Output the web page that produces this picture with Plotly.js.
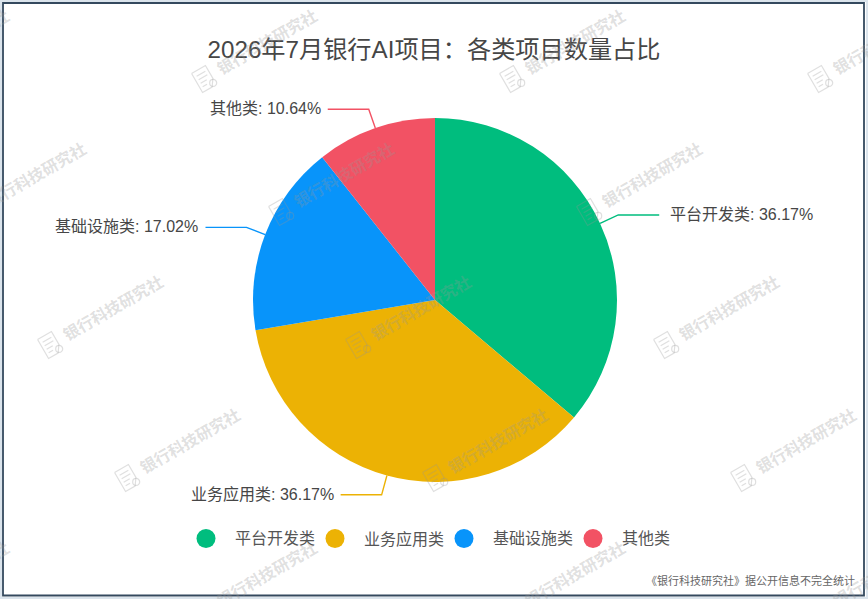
<!DOCTYPE html>
<html>
<head>
<meta charset="utf-8">
<script src="https://cdn.plot.ly/plotly-3.0.1.min.js"></script>
<style>html,body{margin:0;padding:0;background:#fff}#chart{width:868px;height:599px}</style>
</head>
<body>
<div id="chart"></div>
<script>
const categories = ['平台开发类', '业务应用类', '基础设施类', '其他类'];
const projectCounts = [17, 17, 8, 5];
const sliceColors = ['#00bd7e', '#ecb204', '#0894fa', '#f25264'];
const titleText = '2026年7月银行AI项目：各类项目数量占比';
const footerText = '《银行科技研究社》据公开信息不完全统计';
const watermarkText = '银行科技研究社';

const W = 868, H = 599, CX = 435, CY = 300, R = 182;
const FONT = '"Liberation Sans", "Noto Sans CJK SC", sans-serif';
const px = x => x / W;
const py = y => 1 - y / H;

const shapes = [], annotations = [];
const toPath = pts => pts.map((p, i) => (i ? 'L' : 'M') + px(p[0]) + ',' + py(p[1])).join(' ');

// watermarks
function addWatermark(ix, iy) {
  const a = -30 * Math.PI / 180;
  const rot = (dx, dy) => [ix + dx * Math.cos(a) - dy * Math.sin(a), iy + dx * Math.sin(a) + dy * Math.cos(a)];
  const stroke = {color: 'rgba(150,150,150,0.30)', width: 1.2};
  const seg = pts => shapes.push({type: 'path', xref: 'paper', yref: 'paper', layer: 'above',
    path: toPath(pts.map(p => rot(p[0], p[1]))), line: stroke});
  seg([[-8, -11], [8, -11], [8, 4], [3, 11], [-8, 11], [-8, -11]]);
  seg([[-5, -6], [5, -6]]);
  seg([[-5, -2], [5, -2]]);
  seg([[-5, 2], [2, 2]]);
  seg([[-5, 6], [0, 6]]);
  const c = rot(6, 8);
  shapes.push({type: 'circle', xref: 'paper', yref: 'paper', layer: 'above',
    x0: px(c[0] - 3.5), x1: px(c[0] + 3.5), y0: py(c[1] - 3.5), y1: py(c[1] + 3.5), line: stroke});
  annotations.push({xref: 'paper', yref: 'paper', x: px(ix + 63), y: py(iy - 37), xanchor: 'center', yanchor: 'middle',
    text: '<b>' + watermarkText + '</b>', textangle: -30, showarrow: false,
    font: {family: FONT, size: 16, color: 'rgba(150,150,150,0.30)'}});
}
for (let j = -2; j <= 2; j++) {
  for (let i = -1; i <= 3; i++) {
    const ix = 50 + i * 308 + j * 77, iy = 345 + j * 133;
    if (ix > -130 && ix < 860) addWatermark(ix, iy);
  }
}

// leader lines and labels, derived from the values
const total = projectCounts.reduce((a, b) => a + b, 0);
let cum = 0;
projectCounts.forEach((v, i) => {
  const mid = (cum + v / 2) / total * 2 * Math.PI;
  cum += v;
  const s = Math.sin(mid), c = Math.cos(mid);
  const right = s > 0, dir = right ? 1 : -1;
  const ex = CX + R * s, ey = CY - R * c;
  const kx = CX + (R + 20) * s, ky = CY - (R + 20) * c;
  const hx = kx + dir * 41;
  shapes.push({type: 'path', xref: 'paper', yref: 'paper', layer: 'above',
    path: toPath([[ex, ey], [kx, ky], [hx, ky]]), line: {color: sliceColors[i], width: 1.4}});
  annotations.push({xref: 'paper', yref: 'paper', x: px(hx + dir * (right ? 10.5 : 7)), y: py(ky - 0.5),
    xanchor: right ? 'left' : 'right', yanchor: 'middle', showarrow: false, borderpad: 0, borderwidth: 0,
    text: categories[i] + ': ' + (v / total * 100).toFixed(2) + '%',
    font: {family: FONT, size: 16, color: '#464646'}});
});

// legend
categories.forEach((name, i) => {
  const lx = 206 + i * 129, ly = 538.5, r = 9.5;
  shapes.push({type: 'circle', xref: 'paper', yref: 'paper', layer: 'above',
    x0: px(lx - r), x1: px(lx + r), y0: py(ly - r), y1: py(ly + r),
    fillcolor: sliceColors[i], line: {width: 0}});
  annotations.push({xref: 'paper', yref: 'paper', x: px(lx + 27.5), y: py(ly), xanchor: 'left', yanchor: 'middle',
    showarrow: false, borderpad: 0, text: name, font: {family: FONT, size: 16, color: '#555555'}});
});

// footer
annotations.push({xref: 'paper', yref: 'paper', x: px(856), y: py(580), xanchor: 'right', yanchor: 'middle',
  showarrow: false, borderpad: 0, text: footerText, font: {family: FONT, size: 11, color: '#666666'}});

// frame and outer margin
shapes.push({type: 'rect', xref: 'paper', yref: 'paper', layer: 'above',
  x0: px(0), x1: px(868), y0: py(0), y1: py(599), line: {color: '#dbe4ec', width: 4}});
shapes.push({type: 'rect', xref: 'paper', yref: 'paper', layer: 'above',
  x0: px(3), x1: px(864), y0: py(3), y1: py(595.5), line: {color: '#34495e', width: 1.8}});

const data = [{
  type: 'pie',
  labels: categories,
  values: projectCounts,
  sort: false,
  direction: 'clockwise',
  rotation: 0,
  textinfo: 'none',
  hoverinfo: 'label+percent',
  marker: {colors: sliceColors, line: {width: 0}},
  domain: {x: [px(CX - R), px(CX + R)], y: [py(CY + R), py(CY - R)]},
  showlegend: false
}];

const layout = {
  width: W, height: H,
  margin: {l: 0, r: 0, t: 0, b: 0},
  paper_bgcolor: '#ffffff',
  title: {text: titleText, x: 0.5, xanchor: 'center', xref: 'paper', y: py(49.5), yref: 'paper', yanchor: 'middle',
    font: {family: FONT, size: 24.2, color: '#464646'}},
  showlegend: false,
  shapes, annotations
};
Plotly.newPlot('chart', data, layout, {displayModeBar: false, staticPlot: true});
</script>
</body>
</html>
